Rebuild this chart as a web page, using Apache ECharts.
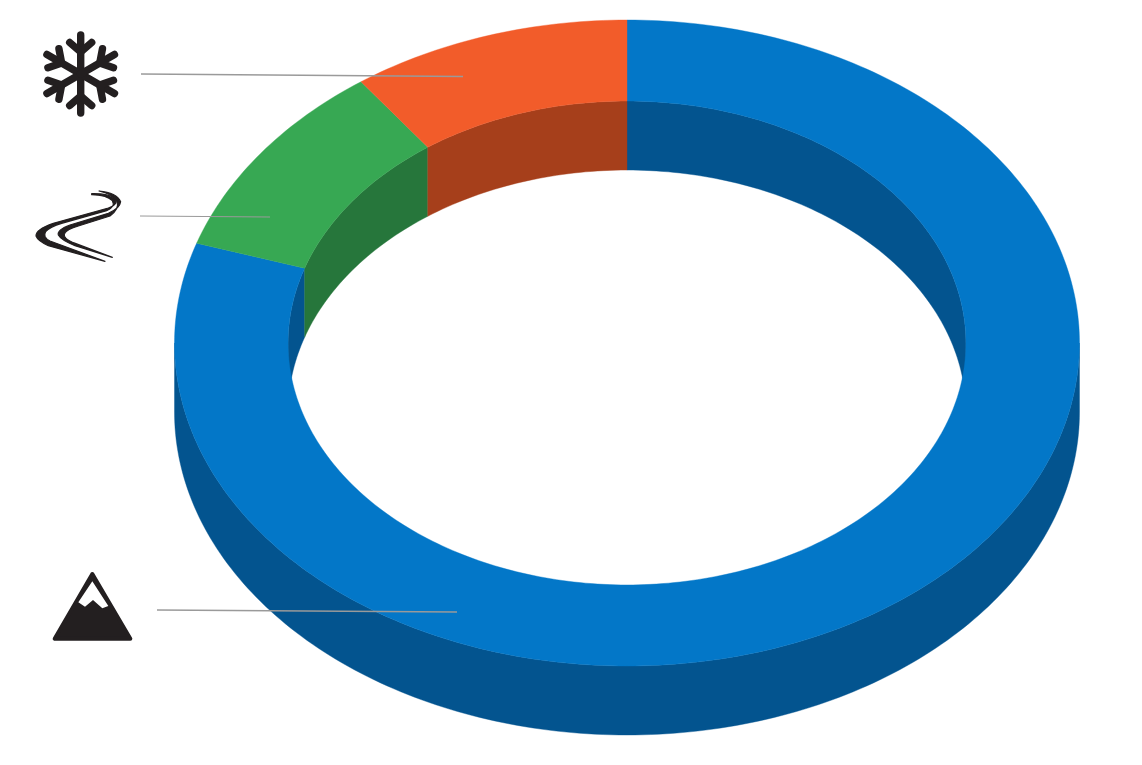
<!DOCTYPE html>
<html>
<head>
<meta charset="utf-8">
<style>html,body{margin:0;padding:0;background:#fff}#c{width:1142px;height:765px}</style>
<script src="https://cdn.jsdelivr.net/npm/echarts@6/dist/echarts.min.js"></script>
</head>
<body>
<div id="c"></div>
<script>
const categories = ['Mountain', 'Trail', 'Snow'];
const shareValues = [80, 10, 10];
const topColors = ['#0377c8', '#37a853', '#f25c2a'];
const wallColors = ['#03548f', '#26763b', '#a63f1b'];
const innerRatio = 0.749;
const depth = 0.2136;
const iconColor = '#231f20';
const leaderColor = '#9a9a9a';

const total = shareValues.reduce((a, b) => a + b, 0);
function sliceRange(i) {
  let start = 0;
  for (let k = 0; k < i; k++) start += shareValues[k];
  return [start / total * 360, (start + shareValues[i]) / total * 360];
}
function arc(api, r, yShift, a, b) {
  const pts = [];
  const n = Math.max(2, Math.ceil(b - a));
  for (let j = 0; j <= n; j++) {
    const t = (a + (b - a) * j / n) * Math.PI / 180;
    pts.push(api.coord([r * Math.sin(t), r * Math.cos(t) + yShift]));
  }
  return pts;
}
function band(api, r1, s1, r2, s2, a, b, color) {
  const p = arc(api, r1, s1, a, b).concat(arc(api, r2, s2, a, b).reverse());
  return {
    type: 'polygon', shape: { points: p },
    style: { fill: color, stroke: color, lineWidth: 0.4 }
  };
}
function clipped(i, windows) {
  const [a, b] = sliceRange(i);
  return windows.map(w => [Math.max(a, w[0]), Math.min(b, w[1])]).filter(w => w[1] > w[0]);
}
const rows = shareValues.map((v, i) => [i, v]);
function layer(z, render) {
  return {
    type: 'custom', data: rows, z, silent: true, clip: false,
    encode: { x: 0, y: 1 }, renderItem: render
  };
}
const outerWall = (p, api) => ({
  type: 'group',
  children: clipped(p.dataIndex, [[90, 270]]).map(w =>
    band(api, 1, 0, 1, -depth, w[0], w[1], wallColors[p.dataIndex]))
});
const innerWall = (p, api) => ({
  type: 'group',
  children: clipped(p.dataIndex, [[0, 90], [270, 360]]).map(w =>
    band(api, innerRatio, 0, innerRatio, -depth, w[0], w[1], wallColors[p.dataIndex]))
});
const topRing = (p, api) => {
  const [a, b] = sliceRange(p.dataIndex);
  return band(api, 1, 0, innerRatio, 0, a, b, topColors[p.dataIndex]);
};
const trailStyle = { fill: iconColor, stroke: iconColor, lineWidth: 3.5, lineJoin: 'round' };
const trailIcon = () => ({
  type: 'group', x: 25, y: 180, scaleX: 1 / 3, scaleY: 1 / 3,
  children: [
    { type: 'path', shape: { pathData: 'M200,41 Q250,40 270,55 Q282,72 250,84 L85,130 Q32,148 33,168 Q38,182 70,197 L240,244 L75,183 Q52,172 62,155 Q75,140 110,130 L245,92 Q272,80 262,62 Q245,45 200,44 Z' }, style: trailStyle },
    { type: 'path', shape: { pathData: 'M222,33 Q275,38 287,65 Q285,85 250,100 L135,135 Q95,150 100,165 Q108,180 150,197 L262,232 L145,188 Q115,175 118,162 Q125,148 160,138 L255,108 Q285,85 275,62 Q262,42 222,33 Z' }, style: trailStyle }
  ]
});

const snowArms = [0, 1, 2, 3, 4, 5].map(k => ({
  type: 'group', rotation: k * Math.PI / 3,
  children: [
    [[0, 0], [0, -39]],
    [[-11, -31.5], [0, -22], [11, -31.5]]
  ].map(points => ({
    type: 'polyline', shape: { points },
    style: { fill: null, stroke: iconColor, lineWidth: 7.4, lineCap: 'round', lineJoin: 'round' }
  }))
}));

const chart = echarts.init(document.getElementById('c'), null, { renderer: 'canvas' });
chart.setOption({
  animation: false,
  backgroundColor: '#fff',
  grid: { left: 174.5, width: 905, top: 20, height: 715 },
  xAxis: { type: 'value', min: -1, max: 1, show: false },
  yAxis: { type: 'value', min: -1 - depth, max: 1, show: false },
  series: [
    layer(2, outerWall), layer(3, innerWall), layer(4, topRing),
    { type: 'custom', data: [[0, 0]], z: 6, silent: true, clip: false, encode: { x: 0, y: 1 }, renderItem: trailIcon }
  ],
  graphic: [
    { type: 'line', z: 20, shape: { x1: 141, y1: 74, x2: 463, y2: 76.5 }, style: { stroke: leaderColor, lineWidth: 1.6 } },
    { type: 'line', z: 20, shape: { x1: 140, y1: 216, x2: 270, y2: 217 }, style: { stroke: leaderColor, lineWidth: 1.1 } },
    { type: 'line', z: 20, shape: { x1: 157, y1: 610, x2: 457, y2: 612 }, style: { stroke: leaderColor, lineWidth: 1.3 } },
    { type: 'group', z: 20, x: 80.7, y: 74, children: snowArms },
    {
      type: 'group', z: 20, x: 40, y: 560, scaleX: 1 / 3, scaleY: 1 / 3, children: [
        { type: 'polygon', shape: { points: [[157, 42], [44, 236], [271, 236]] }, style: { fill: iconColor, stroke: iconColor, lineWidth: 12, lineJoin: 'round' } },
        { type: 'polygon', shape: { points: [[157, 64], [115, 127], [135, 140], [159, 120], [187, 145], [205, 138]] }, style: { fill: '#fff' } }
      ]
    }
  ]
});
</script>
</body>
</html>
